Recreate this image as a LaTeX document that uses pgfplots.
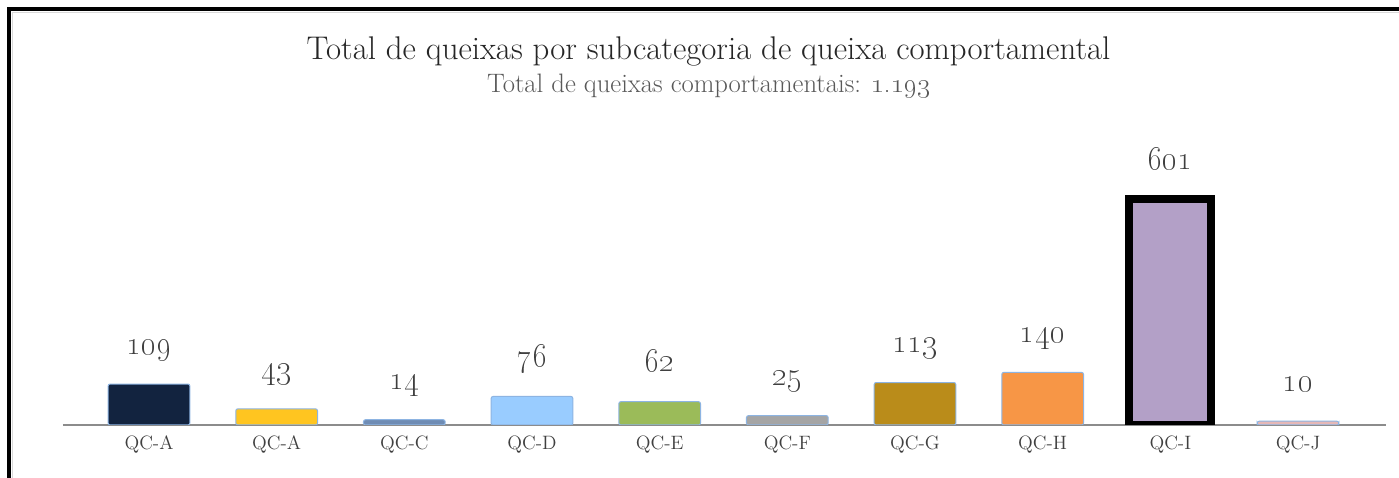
\documentclass[border=0pt]{standalone}
\usepackage{pgfplots}
\pgfplotsset{compat=1.18}
\definecolor{cNavy}{HTML}{12233F}
\definecolor{cYellow}{HTML}{FFC520}
\definecolor{cSteel}{HTML}{6F8CB4}
\definecolor{cLightBlue}{HTML}{99CCFF}
\definecolor{cGreen}{HTML}{9BBB59}
\definecolor{cGray}{HTML}{A5A5A5}
\definecolor{cGold}{HTML}{BA8C1A}
\definecolor{cOrange}{HTML}{F79646}
\definecolor{cLavender}{HTML}{B3A0C7}
\definecolor{cPink}{HTML}{E6B8B7}
\definecolor{cEdge}{HTML}{8DB4E2}
\definecolor{axisgray}{HTML}{8C8C8C}
\definecolor{titlecol}{HTML}{262626}
\definecolor{subcol}{HTML}{595959}
\definecolor{labcol}{HTML}{404040}
\begin{document}
\begin{tikzpicture}
\useasboundingbox (0,0) rectangle (1049.25pt,358.5pt);
\fill[white] (0,0) rectangle (1049.25pt,358.5pt);
% screenshot frame
\draw[black!15,line width=0.8pt] (9.4pt,0) -- (9.4pt,349.3pt) -- (1049.25pt,349.3pt);
\draw[black,line width=3pt] (6.75pt,0) -- (6.75pt,351.75pt) -- (1049.25pt,351.75pt);
% titles
\node[anchor=base,text=titlecol,font=\fontsize{24.6}{28}\selectfont] at (531.4pt,313.5pt)
  {Total de queixas por subcategoria de queixa comportamental};
\node[anchor=base,text=subcol,font=\fontsize{20}{23}\selectfont] at (531.4pt,288.75pt)
  {Total de queixas comportamentais: \oldstylenums{1.193}};
\begin{axis}[at={(111.75pt,39.75pt)},anchor=origin,
  x=95.75pt,y=0.282pt,xmin=-0.674,xmax=9.69,ymin=0,ymax=800,
  clip=true,axis y line=none,axis x line*=bottom,
  axis line style={draw=axisgray,line width=1.1pt},
  xtick={0,...,9},
  xticklabels={QC-A,QC-A,QC-C,QC-D,QC-E,QC-F,QC-G,QC-H,QC-I,QC-J},
  major tick length=0pt,
  xticklabel style={anchor=base,yshift=-18.5pt,text=labcol,font=\fontsize{14.5}{16}\selectfont},
  ybar,bar width=0.64,bar shift=0pt,
  every axis plot/.append style={draw=cEdge,line width=0.75pt,rounded corners=1.5pt},
  nodes near coords={\oldstylenums{\pgfmathprintnumber[assume math mode=true]{\pgfplotspointmeta}}},
  every node near coord/.append style={anchor=base,yshift=22.5pt,text=labcol,font=\fontsize{23}{25}\selectfont},
]
\addplot[fill=cNavy] coordinates {(0,109)};
\addplot[fill=cYellow] coordinates {(1,43)};
\addplot[fill=cSteel] coordinates {(2,14)};
\addplot[fill=cLightBlue] coordinates {(3,76)};
\addplot[fill=cGreen] coordinates {(4,62)};
\addplot[fill=cGray] coordinates {(5,25)};
\addplot[fill=cGold] coordinates {(6,113)};
\addplot[fill=cOrange] coordinates {(7,140)};
\addplot[fill=cLavender,draw=black,line width=6pt,rounded corners=0pt] coordinates {(8,601)};
\addplot[fill=cPink] coordinates {(9,10)};
\end{axis}
\end{tikzpicture}
\end{document}
